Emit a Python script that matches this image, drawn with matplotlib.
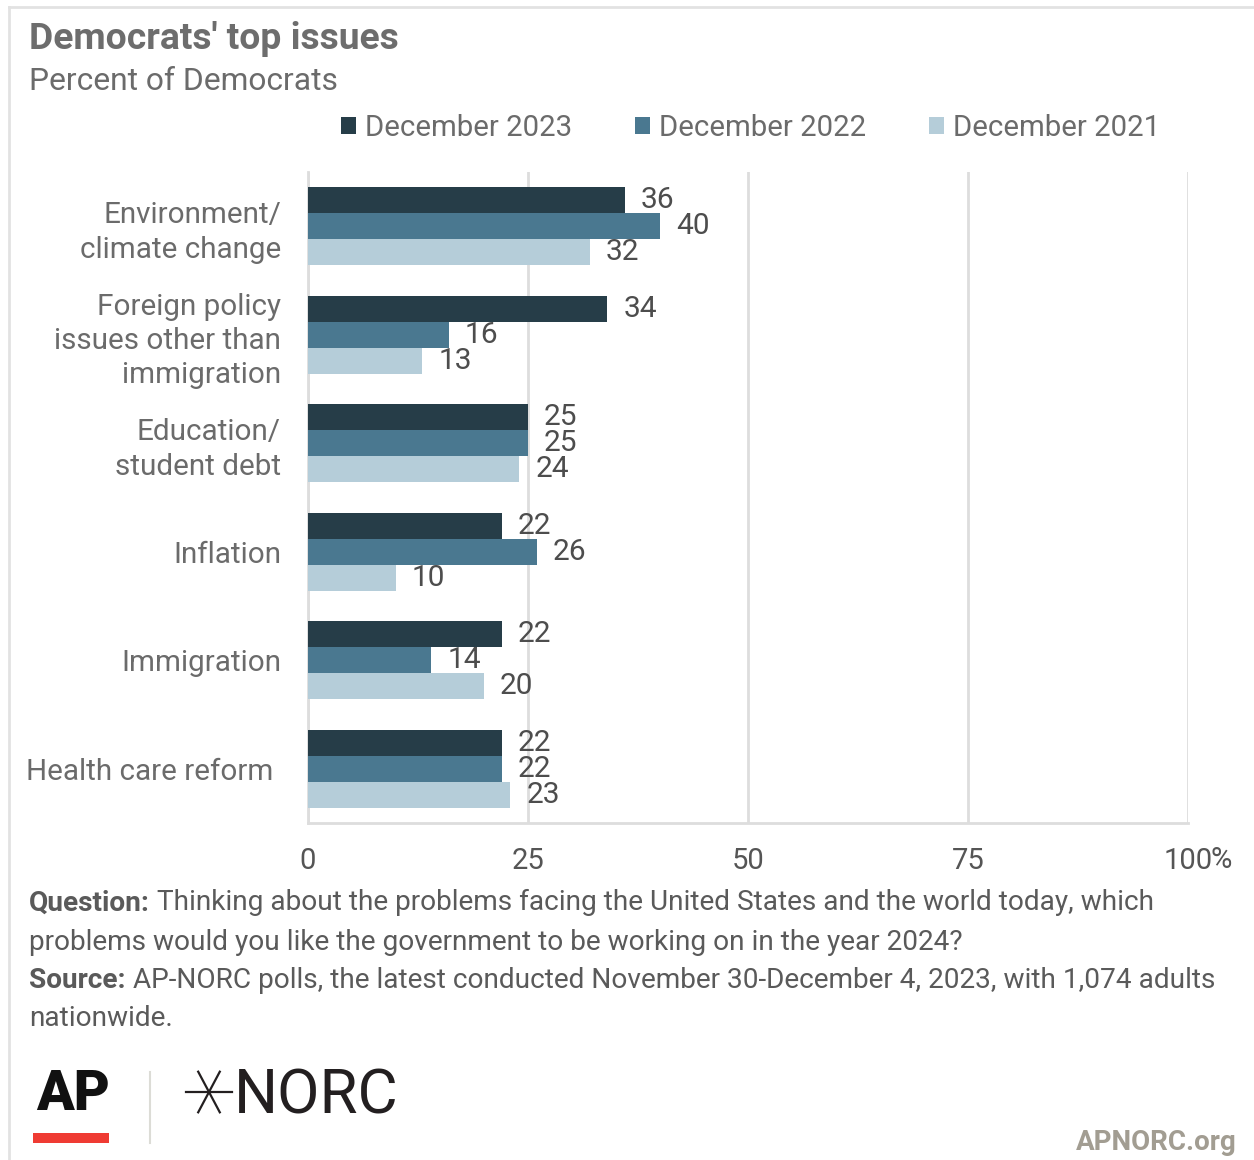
import numpy as np
import matplotlib
matplotlib.use('Agg')
import matplotlib.pyplot as plt
import matplotlib.transforms as mtransforms
from matplotlib.patches import Patch, Rectangle
from matplotlib.lines import Line2D

plt.rcParams['font.family'] = ['Roboto', 'DejaVu Sans']

# data
categories = ['Environment/\nclimate change',
              'Foreign policy\nissues other than\nimmigration',
              'Education/\nstudent debt',
              'Inflation',
              'Immigration',
              'Health care reform']
series = ['December 2023', 'December 2022', 'December 2021']
dec2023 = [36, 34, 25, 22, 22, 22]
dec2022 = [40, 16, 25, 26, 14, 22]
dec2021 = [32, 13, 24, 10, 20, 23]
xticks = [0, 25, 50, 75, 100]

colors = ['#263d48', '#4a7890', '#b5cdd9']
grey_txt = '#6b6b6b'
val_txt = '#4d4d4d'

W, H = 1254, 1160
fig = plt.figure(figsize=(W / 100, H / 100), dpi=100)

def fx(px):
    return px / W

def fy(py):
    return 1 - py / H

ax = fig.add_axes([fx(308), fy(823), fx(1188) - fx(308), fy(172) - fy(823)])

y = np.arange(len(categories))
bh = 0.24
for i, (vals, name) in enumerate(zip([dec2023, dec2022, dec2021], series)):
    bars = ax.barh(y + (i - 1) * bh, vals, height=bh, color=colors[i], label=name, zorder=3)
    ax.bar_label(bars, padding=11.5, fontsize=21.5, color=val_txt)

ax.set_ylim(len(categories) - 0.5, -0.5)
ax.set_xlim(0, 100)
ax.set_xticks(xticks)
ax.set_xticklabels([str(t) for t in xticks])
ax.set_yticks(y)
ax.set_yticklabels(categories, linespacing=1.29)
ax.tick_params(axis='x', length=0, pad=17, labelsize=21, labelcolor='#555555')
ax.tick_params(axis='y', length=0, pad=19.5, labelsize=21.3, labelcolor=grey_txt)
# last label sits a bit further left in the original
lab = ax.get_yticklabels()[-1]
lab.set_transform(lab.get_transform() + mtransforms.ScaledTranslation(-0.08, 0, fig.dpi_scale_trans))
ax.grid(axis='x', color='#dddddd', linewidth=2, zorder=0)
for s in ['top', 'right']:
    ax.spines[s].set_visible(False)
for s in ['left', 'bottom']:
    ax.spines[s].set_color('#dddddd')
    ax.spines[s].set_linewidth(2)
ax.annotate('%', xy=(100, 0), xycoords=('data', 'axes fraction'), xytext=(16, -26.5),
            textcoords='offset points', ha='left', va='center', fontsize=21, color='#555555')

# legend
handles = [Patch(facecolor=c, edgecolor='none') for c in colors]
fig.legend(handles, series, loc='center left', bbox_to_anchor=(fx(341), fy(128)),
           ncol=3, frameon=False, fontsize=21.2, labelcolor='#6b6b6b',
           handlelength=0.5, handleheight=0.5, handletextpad=0.3,
           columnspacing=2.15, borderaxespad=0, borderpad=0)

# titles
fig.text(fx(29), fy(39), "Democrats' top issues", fontsize=26.8, fontweight='bold',
         color='#6d6d6d', va='center', ha='left')
fig.text(fx(29), fy(81), 'Percent of Democrats', fontsize=22.9,
         color='#6b6b6b', va='center', ha='left')

# footer notes
foot = '#5a5a5a'
fs = 20.2
q = fig.text(fx(29), fy(903), 'Question:', fontsize=fs, fontweight='bold', color=foot,
             va='center', ha='left')
ax.annotate(' Thinking about the problems facing the United States and the world today, which',
            xy=(1, 0), xycoords=q, fontsize=fs, color=foot, va='bottom', ha='left',
            annotation_clip=False)
fig.text(fx(29), fy(942), 'problems would you like the government to be working on in the year 2024?',
         fontsize=fs, color=foot, va='center', ha='left')
s = fig.text(fx(29), fy(981), 'Source:', fontsize=fs, fontweight='bold', color=foot,
             va='center', ha='left')
ax.annotate(' AP-NORC polls, the latest conducted November 30-December 4, 2023, with 1,074 adults',
            xy=(1, 0), xycoords=s, fontsize=fs, color=foot, va='bottom', ha='left',
            annotation_clip=False)
fig.text(fx(29), fy(1019), 'nationwide.', fontsize=fs, color=foot, va='center', ha='left')

# logos
fig.text(fx(36), fy(1095), 'AP', fontsize=40, fontweight='black', color='#111111',
         va='center', ha='left')
fig.add_artist(Rectangle((fx(33), fy(1143)), fx(109) - fx(33), fy(1133) - fy(1143),
                         transform=fig.transFigure, color='#ef3b33', lw=0))
fig.add_artist(Line2D([fx(150), fx(150)], [fy(1072), fy(1143)], transform=fig.transFigure,
                      color='#dcdcd6', lw=1.5))
cx, cy = 209, 1092
for ang, r in [(0, 23), (62, 23), (-62, 23)]:
    dx = r * np.cos(np.radians(ang))
    dy = r * np.sin(np.radians(ang))
    fig.add_artist(Line2D([fx(cx - dx), fx(cx + dx)], [fy(cy - dy), fy(cy + dy)],
                          transform=fig.transFigure, color='#231f20', lw=1.6))
fig.text(fx(234), fy(1096), 'NORC', fontsize=44.5, color='#231f20', va='center', ha='left')
fig.text(fx(1237), fy(1142), 'APNORC.org', fontsize=20, fontweight='bold', color='#a29d92',
         va='center', ha='right')

# frame
fig.add_artist(Line2D([fx(9), 1], [fy(7), fy(7)], transform=fig.transFigure, color='#e2e2e2', lw=2))
fig.add_artist(Line2D([fx(9), fx(9)], [fy(7), 0], transform=fig.transFigure, color='#e2e2e2', lw=2))

fig.savefig('out.png', dpi=100)
